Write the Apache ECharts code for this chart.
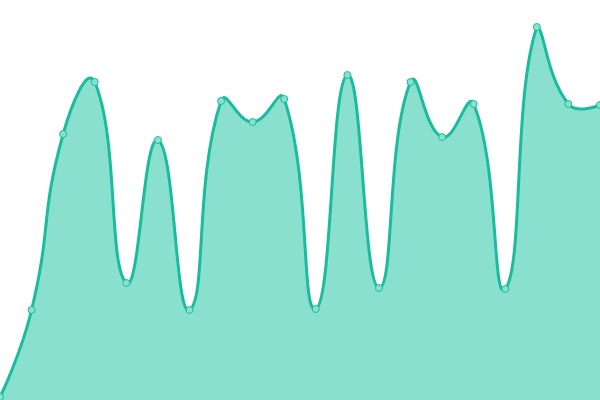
<!DOCTYPE html>
<html><head><meta charset="utf-8">
<script src="https://cdn.jsdelivr.net/npm/echarts@6/dist/echarts.min.js"></script>
<style>html,body{margin:0;padding:0;background:#fff}#c{width:600px;height:400px}</style>
</head><body><div id="c"></div>
<script>
var categories = ['1','2','3','4','5','6','7','8','9','10','11','12','13','14','15','16','17','18','19','20'];
var values = [3, 90, 266, 318, 117, 260, 90, 299, 278, 301, 91, 325, 112, 318, 263, 296, 111, 373, 296, 295];

var LINE_COLOR = '#1abc9c';
var FILL_COLOR = '#8ae0cf';
var SMOOTH = 0.5;

// Classic (unclamped per-segment) bezier smoothing, constrained to bounding box of points
function smoothPath(pts) {
  var n = pts.length;
  var minX = Infinity, minY = Infinity, maxX = -Infinity, maxY = -Infinity;
  pts.forEach(function (p) {
    minX = Math.min(minX, p[0]); maxX = Math.max(maxX, p[0]);
    minY = Math.min(minY, p[1]); maxY = Math.max(maxY, p[1]);
  });
  function clamp(c) {
    return [Math.max(minX, Math.min(maxX, c[0])), Math.max(minY, Math.min(maxY, c[1]))];
  }
  var d = 'M' + pts[0][0] + ' ' + pts[0][1];
  var cp1 = pts[0].slice();
  for (var i = 1; i < n; i++) {
    var p = pts[i], cp0, v = [0, 0], ratio = 0.5;
    if (i === n - 1) {
      cp0 = p.slice();
    } else {
      var prev = pts[i - 1], next = pts[i + 1];
      v = [next[0] - prev[0], next[1] - prev[1]];
      var lp = Math.hypot(p[0] - prev[0], p[1] - prev[1]);
      var ln = Math.hypot(next[0] - p[0], next[1] - p[1]);
      ratio = ln / (ln + lp);
      cp0 = [p[0] - v[0] * SMOOTH * (1 - ratio), p[1] - v[1] * SMOOTH * (1 - ratio)];
    }
    cp0 = clamp(cp0);
    cp1 = clamp(cp1);
    d += ' C' + cp1[0] + ' ' + cp1[1] + ' ' + cp0[0] + ' ' + cp0[1] + ' ' + p[0] + ' ' + p[1];
    cp1 = [p[0] + v[0] * SMOOTH * ratio, p[1] + v[1] * SMOOTH * ratio];
  }
  return d;
}

var chart = echarts.init(document.getElementById('c'));
chart.setOption({
  animation: false,
  grid: {left: 0, right: 0, top: 0, bottom: 0},
  xAxis: {type: 'category', data: categories, boundaryGap: false, show: false},
  yAxis: {type: 'value', min: 0, max: 400, show: false},
  series: [{
    type: 'custom',
    data: values,
    silent: true,
    renderItem: function (params, api) {
      if (params.dataIndex !== 0) return null;
      var pts = values.map(function (v, i) { return api.coord([i, v]); });
      var base0 = api.coord([0, 0]);
      var baseN = api.coord([values.length - 1, 0]);
      var top = smoothPath(pts);
      var area = top + ' L' + baseN[0] + ' ' + baseN[1] + ' L' + base0[0] + ' ' + base0[1] + ' Z';
      return {
        type: 'group',
        children: [
          {type: 'path', shape: {pathData: area}, style: {fill: FILL_COLOR, stroke: null}},
          {type: 'path', shape: {pathData: top}, style: {fill: null, stroke: LINE_COLOR, lineWidth: 3, lineJoin: 'round'}}
        ]
      };
    }
  }, {
    type: 'scatter',
    data: values,
    symbol: 'circle',
    symbolSize: 7,
    itemStyle: {color: FILL_COLOR, borderColor: LINE_COLOR, borderWidth: 1, opacity: 1},
    z: 3
  }]
});
</script></body></html>
